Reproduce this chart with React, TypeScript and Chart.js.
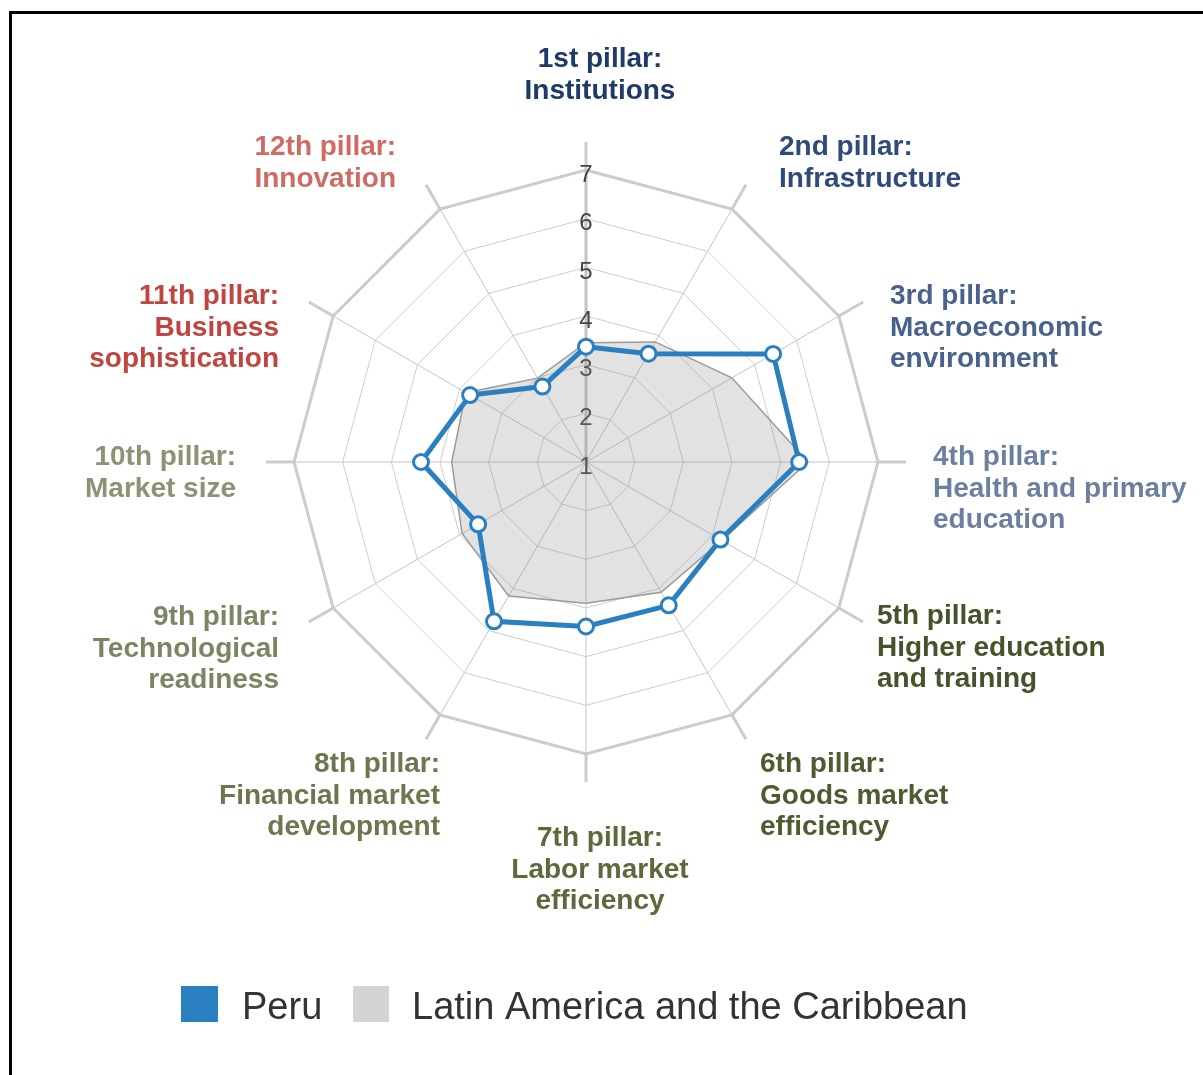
import React, { useEffect, useRef } from "react";
import { Chart, registerables } from "chart.js";

Chart.register(...registerables);

// ---- data ----
const pillarLines: string[][] = [
  ["1st pillar:", "Institutions"],
  ["2nd pillar:", "Infrastructure"],
  ["3rd pillar:", "Macroeconomic", "environment"],
  ["4th pillar:", "Health and primary", "education"],
  ["5th pillar:", "Higher education", "and training"],
  ["6th pillar:", "Goods market", "efficiency"],
  ["7th pillar:", "Labor market", "efficiency"],
  ["8th pillar:", "Financial market", "development"],
  ["9th pillar:", "Technological", "readiness"],
  ["10th pillar:", "Market size"],
  ["11th pillar:", "Business", "sophistication"],
  ["12th pillar:", "Innovation"],
];
const categories: string[] = pillarLines.map((l) => l.join(" "));
const peruValues: number[] = [3.37, 3.57, 5.44, 5.38, 4.19, 4.4, 4.38, 4.78, 3.56, 4.39, 3.75, 2.79];
const lacValues: number[] = [3.45, 3.85, 4.46, 5.56, 4.22, 4.09, 3.9, 4.18, 3.94, 3.76, 3.85, 2.99];
const seriesNames: string[] = ["Peru", "Latin America and the Caribbean"];
const tickMin = 1;
const tickMax = 7;

// ---- styles / layout (not data) ----
const labelColors = [
  "#1f3a68", "#2e4b7b", "#48628c", "#6b80a1",
  "#43542a", "#4c5c30", "#5b693c", "#6b784f",
  "#7a8663", "#8a9374", "#c0443f", "#cf6b64",
];
// offsets from radar centre: [dx, baseline dy of first line, align]
const labelPlacement: [number, number, CanvasTextAlign][] = [
  [14, -395, "center"],
  [193, -307, "left"],
  [304, -158, "left"],
  [347, 3, "left"],
  [291, 162, "left"],
  [174, 310, "left"],
  [14, 384, "center"],
  [-146, 310, "right"],
  [-307, 163, "right"],
  [-350, 3, "right"],
  [-307, -158, "right"],
  [-190, -307, "right"],
];
const BLUE = "#2a7fc1";
const LEGEND_GRAY = "#d4d4d4";
const FONT = "'Liberation Sans', Arial, Helvetica, sans-serif";

const decorPlugin = {
  id: "decor",
  beforeDatasetsDraw(chart: any) {
    const scale = chart.scales.r;
    const ctx = chart.ctx;
    const outer = scale.getDistanceFromCenterForValue(tickMax);
    ctx.save();
    ctx.strokeStyle = "#cccccc";
    ctx.lineWidth = 3;
    for (let i = 0; i < categories.length; i++) {
      const a = scale.getPointPosition(i, outer);
      const b = scale.getPointPosition(i, outer + 28);
      ctx.beginPath();
      ctx.moveTo(a.x, a.y);
      ctx.lineTo(b.x, b.y);
      ctx.stroke();
    }
    // tick labels, drawn from the scale's own ticks
    ctx.fillStyle = "#454545";
    ctx.font = `24px ${FONT}`;
    ctx.textAlign = "center";
    ctx.textBaseline = "middle";
    scale.ticks.forEach((t: any) => {
      const d = scale.getDistanceFromCenterForValue(t.value);
      ctx.fillText(String(t.value), scale.xCenter, scale.yCenter - d + 5);
    });
    ctx.restore();
  },
  afterDraw(chart: any) {
    const scale = chart.scales.r;
    const ctx = chart.ctx;
    ctx.save();
    ctx.font = `bold 28px ${FONT}`;
    ctx.textBaseline = "alphabetic";
    pillarLines.forEach((lines, i) => {
      const [dx, dy, align] = labelPlacement[i];
      ctx.fillStyle = labelColors[i];
      ctx.textAlign = align;
      lines.forEach((line, j) => {
        ctx.fillText(line, scale.xCenter + dx, scale.yCenter + dy + j * 31.5);
      });
    });
    // legend
    ctx.font = `38px ${FONT}`;
    ctx.textAlign = "left";
    ctx.fillStyle = BLUE;
    ctx.fillRect(181, 986, 37, 36);
    ctx.fillStyle = "#333333";
    ctx.fillText(seriesNames[0], 242, 1019);
    ctx.fillStyle = LEGEND_GRAY;
    ctx.fillRect(353, 986, 36, 36);
    ctx.fillStyle = "#333333";
    ctx.fillText(seriesNames[1], 412, 1019);
    ctx.restore();
  },
};

export default function App() {
  const ref = useRef<HTMLCanvasElement | null>(null);
  useEffect(() => {
    if (!ref.current) return;
    const chart = new Chart(ref.current, {
      type: "radar",
      data: {
        labels: categories,
        datasets: [
          {
            label: seriesNames[0],
            data: peruValues,
            borderColor: BLUE,
            borderWidth: 5,
            fill: false,
            pointRadius: 7.5,
            pointBorderWidth: 3,
            pointBackgroundColor: "#ffffff",
            pointBorderColor: BLUE,
            tension: 0,
          },
          {
            label: seriesNames[1],
            data: lacValues,
            borderColor: "#9a9a9a",
            borderWidth: 1.5,
            backgroundColor: "rgba(140,140,140,0.25)",
            fill: true,
            pointRadius: 0,
            tension: 0,
          },
        ],
      },
      options: {
        responsive: false,
        animation: false,
        events: [],
        layout: { padding: { top: 156, bottom: 306, left: 280, right: 310 } },
        plugins: { legend: { display: false }, tooltip: { enabled: false } },
        scales: {
          r: {
            min: tickMin,
            max: tickMax,
            ticks: {
              stepSize: 1,
              showLabelBackdrop: false,
              color: "rgba(0,0,0,0)",
              font: { size: 24, family: FONT },
            },
            pointLabels: { display: false },
            grid: {
              color: "#cccccc",
              lineWidth: (c: any) => (c.tick && c.tick.value === tickMax ? 3 : 1),
            },
            angleLines: {
              color: "#c4c4c4",
              lineWidth: (c: any) => (c.index === 0 ? 3 : 1),
            },
          },
        },
      },
      plugins: [decorPlugin],
    });
    return () => chart.destroy();
  }, []);
  return (
    <div style={{ position: "absolute", left: 0, top: 0, width: 1203, height: 1075, overflow: "hidden", background: "#fff" }}>
      <div
        style={{
          position: "absolute",
          left: 9,
          top: 11,
          width: 1300,
          height: 1200,
          borderTop: "3px solid #000",
          borderLeft: "3px solid #000",
        }}
      />
      <canvas ref={ref} width={1203} height={1075} style={{ position: "absolute", left: 0, top: 0 }} />
    </div>
  );
}
